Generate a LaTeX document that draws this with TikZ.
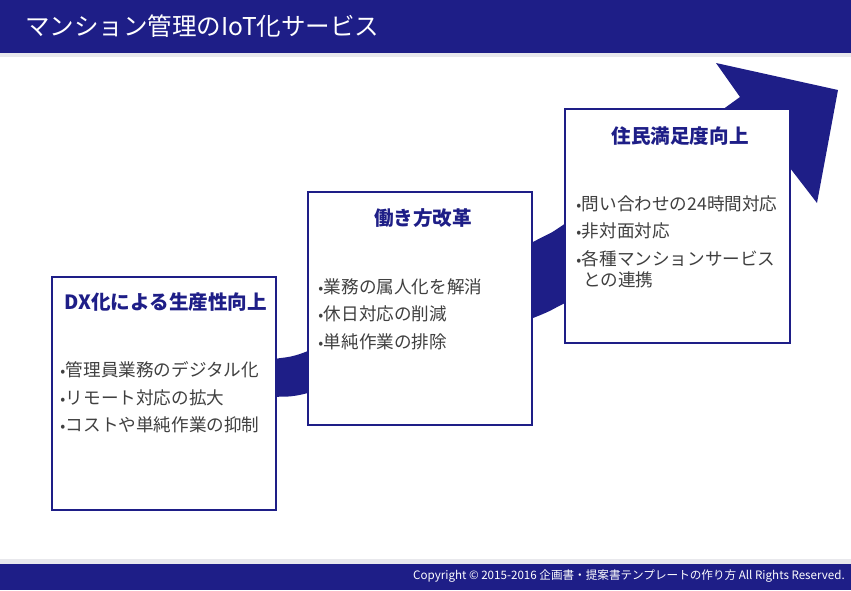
\documentclass[tikz,border=0pt]{standalone}
\usepackage{fontspec}
\setmainfont{Noto Sans CJK JP}
\definecolor{navy}{RGB}{30,30,135}
\definecolor{txtgray}{RGB}{64,64,64}
\definecolor{stripgray}{RGB}{232,232,236}
\tikzset{
  box/.style={draw=navy, line width=2.2pt, fill=white, inner sep=0pt},
  boxtitle/.style={text=navy, font=\fontsize{14.7}{17}\selectfont\bfseries, inner sep=0pt},
  item/.style={text=txtgray, font=\fontsize{13.2}{15}\selectfont, anchor=west, inner sep=0pt},
}
\newcommand{\bul}{{\fontsize{11}{12}\selectfont •}\hspace{0.5pt}}
\begin{document}
\begin{tikzpicture}[x=0.75pt,y=-0.75pt]
\useasboundingbox (0,0) rectangle (851,590);
% header / footer
\fill[navy] (0,0) rectangle (851,53);
\fill[stripgray] (0,53) rectangle (851,57);
\fill[stripgray] (0,559) rectangle (851,564);
\fill[navy] (0,564) rectangle (851,590);
\node[anchor=west, text=white, font=\fontsize{18.4}{22}\selectfont, inner sep=0pt] (title) at (25,26) {マンション管理のIoT化サービス};
\node[anchor=east, text=white, font=\fontsize{8.7}{10}\selectfont, inner sep=0pt] (foot) at (845,576) {Copyright © 2015-2016 企画書・提案書テンプレートの作り方 All Rights Reserved.};
% arrow
\fill[navy] plot[smooth, tension=0.5] coordinates {(240,367) (275,359) (308,351) (420,302) (533,242) (563,225) (650,162) (740,97)}
  -- (716,63) -- (838,90) -- (817,203) -- (790,168)
  -- plot[smooth, tension=0.5] coordinates {(700,225) (620,275) (563,304) (533,318) (420,360) (308,393) (275,397) (240,400)} -- cycle;
% boxes
\node[box, minimum width=168pt, minimum height=174.75pt] (b1) at (164,393.5) {};
\node[box, minimum width=168pt, minimum height=174.75pt] (b2) at (420,308.5) {};
\node[box, minimum width=168.75pt, minimum height=175.5pt] (b3) at (677.5,226) {};
% titles
\node[boxtitle] (t1) at (166,302) {DX化による生産性向上};
\node[boxtitle] (t2) at (423,218) {働き方改革};
\node[boxtitle] (t3) at (680,136) {住民満足度向上};
% items
\node[item] (a1) at (60,370) {\bul 管理員業務のデジタル化};
\node[item] (a2) at (60,398) {\bul リモート対応の拡大};
\node[item] (a3) at (60,425) {\bul コストや単純作業の抑制};
\node[item] (c1) at (318,287) {\bul 業務の属人化を解消};
\node[item] (c2) at (318,314) {\bul 休日対応の削減};
\node[item] (c3) at (318,342) {\bul 単純作業の排除};
\node[item] (d1) at (576,204) {\bul 問い合わせの24時間対応};
\node[item] (d2) at (576,231) {\bul 非対面対応};
\node[item] (d3) at (576,259) {\bul 各種マンションサービス};
\node[item] (d4) at (583,280) {との連携};
\end{tikzpicture}
\end{document}
